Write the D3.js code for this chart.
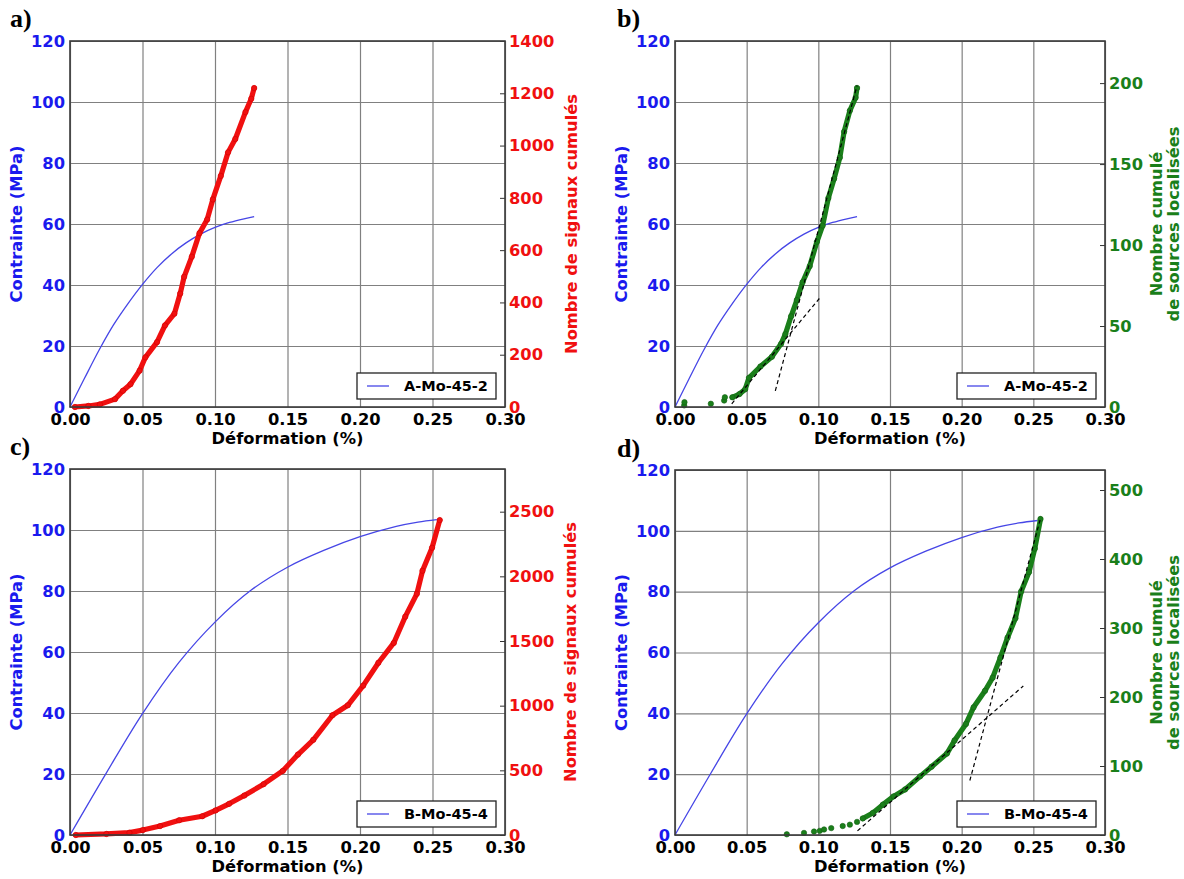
<!DOCTYPE html>
<html><head><meta charset="utf-8">
<script src="https://cdn.jsdelivr.net/npm/d3@7"></script>
<style>
body{margin:0;background:#fff}
svg text{font-family:"DejaVu Sans",sans-serif;font-weight:bold}
</style>
</head><body>
<svg id="chart" width="1184" height="879"></svg>
<script>
// ---------------- DATA ----------------
const xTicks = [0, 0.05, 0.10, 0.15, 0.20, 0.25, 0.30];
const stressTicks = [0, 20, 40, 60, 80, 100, 120];
const signalTicksA = [0, 200, 400, 600, 800, 1000, 1200, 1400];
const sourceTicksB = [0, 50, 100, 150, 200];
const signalTicksC = [0, 500, 1000, 1500, 2000, 2500];
const sourceTicksD = [0, 100, 200, 300, 400, 500];

// Stress (MPa) vs strain (%) – specimen A-Mo-45-2
const stressA = [[0,0],[0.01,9.4],[0.02,18.6],[0.03,26.9],[0.04,33.9],[0.05,40.2],
  [0.06,45.7],[0.07,50.2],[0.08,53.8],[0.09,56.7],[0.10,58.9],[0.11,60.5],[0.12,61.7],[0.127,62.4]];
// Stress (MPa) vs strain (%) – specimen B-Mo-45-4
const stressB = [[0,0],[0.025,20.3],[0.05,39.8],[0.075,56.5],[0.10,69.8],[0.125,80.3],
  [0.15,87.8],[0.175,93.3],[0.20,97.8],[0.225,101.2],[0.24,102.6],[0.253,103.4]];

// Cumulative AE signals – panel a
const signalsA = [[0.0034,0],[0.0127,4],[0.0206,10],[0.031,30],[0.0365,62],[0.0417,87],
  [0.048,139],[0.052,190],[0.060,248],[0.0655,312],[0.072,357],[0.076,434],[0.0787,498],
  [0.084,575],[0.0893,665],[0.0946,717],[0.0985,794],[0.104,884],[0.109,974],[0.114,1025],
  [0.121,1128],[0.125,1179],[0.127,1220]];
// Cumulative localised sources – panel b
const sourcesBSparse = [[0.0064,1],[0.0066,3],[0.025,2],[0.0343,4],[0.0348,6]];
const sourcesB = [[0.040,6],[0.045,8],[0.049,11],[0.0516,18],[0.0596,25],[0.0676,31],
  [0.074,39],[0.077,45],[0.081,56],[0.085,66],[0.089,77],[0.094,87],[0.099,102],
  [0.103,112],[0.107,129],[0.111,141],[0.115,154],[0.118,170],[0.122,183],[0.126,191],[0.127,197]];
const fitB1 = [[0.0396,2],[0.1007,67]];
const fitB2 = [[0.070,10],[0.127,198.5]];
// Cumulative AE signals – panel c
const signalsC = [[0.004,0],[0.0251,8],[0.041,18],[0.0502,38],[0.0621,69],[0.0753,114],
  [0.0912,145],[0.1004,190],[0.1097,241],[0.1202,305],[0.1335,393],[0.1467,495],[0.1572,622],
  [0.1678,736],[0.181,926],[0.1916,1003],[0.2022,1155],[0.2127,1332],[0.2233,1485],
  [0.2312,1688],[0.2392,1865],[0.2431,2043],[0.2497,2221],[0.255,2435]];
// Cumulative localised sources – panel d
const sourcesDSparse = [[0.078,1],[0.090,3],[0.097,5],[0.101,6],[0.104,8],[0.109,10],
  [0.117,13],[0.122,15],[0.127,19]];
const sourcesD = [[0.131,24],[0.138,32],[0.145,44],[0.1525,56],[0.1605,66],[0.171,85],
  [0.179,99],[0.1897,118],[0.195,137],[0.203,161],[0.2083,185],[0.2163,209],[0.2216,228],
  [0.227,257],[0.232,286],[0.2375,314],[0.2415,353],[0.247,381],[0.251,415],[0.255,458]];
const fitD1 = [[0.1273,6],[0.243,216]];
const fitD2 = [[0.2057,79],[0.255,459]];

// ---------------- LAYOUT / STYLE ----------------
const BLUE = "#1a1aee", STRESS_LINE = "#4646e6", RED = "#f01010", GREEN = "#1a7f1a";
const panels = [
  {letter:"a)", lx:10, ly:27, left:70, right:505, top:41, bottom:407, stress:stressA, legend:"A-Mo-45-2",
   rMax:1400, rTicks:signalTicksA, rColor:RED, rLabel:["Nombre de signaux cumulés"], rLabelX:571,
   series:signalsA, sparse:[], fits:[]},
  {letter:"b)", lx:617, ly:27, left:675, right:1105, top:41, bottom:407, stress:stressA, legend:"A-Mo-45-2",
   rMax:226, rTicks:sourceTicksB, rColor:GREEN, rLabel:["Nombre cumulé","de sources localisées"], rLabelX:1156,
   series:sourcesB, sparse:sourcesBSparse, fits:[fitB1, fitB2]},
  {letter:"c)", lx:10, ly:455, left:70, right:505, top:469, bottom:835, stress:stressB, legend:"B-Mo-45-4",
   rMax:2830, rTicks:signalTicksC, rColor:RED, rLabel:["Nombre de signaux cumulés"], rLabelX:570,
   series:signalsC, sparse:[], fits:[]},
  {letter:"d)", lx:617, ly:457, left:675, right:1105, top:470, bottom:835, stress:stressB, legend:"B-Mo-45-4",
   rMax:529, rTicks:sourceTicksD, rColor:GREEN, rLabel:["Nombre cumulé","de sources localisées"], rLabelX:1156,
   series:sourcesD, sparse:sourcesDSparse, fits:[fitD1, fitD2]}
];

const svg = d3.select("#chart");

panels.forEach(p => {
  const w = p.right - p.left, h = p.bottom - p.top;
  const x = d3.scaleLinear().domain([0, 0.3]).range([p.left, p.right]);
  const yL = d3.scaleLinear().domain([0, 120]).range([p.bottom, p.top]);
  const yR = d3.scaleLinear().domain([0, p.rMax]).range([p.bottom, p.top]);
  const g = svg.append("g");

  // panel letter
  g.append("text").attr("x", p.lx).attr("y", p.ly).text(p.letter)
    .style("font-family", "'Liberation Serif', serif").style("font-size", "26px").attr("fill", "#000");

  // x axis with vertical grid
  const xa = g.append("g").attr("transform", `translate(0,${p.bottom})`)
    .call(d3.axisBottom(x).tickValues(xTicks).tickFormat(d3.format(".2f")).tickSizeInner(-h).tickSizeOuter(0).tickPadding(6));
  xa.select(".domain").remove();
  xa.selectAll("line").attr("stroke", "#808080").attr("stroke-width", 1.2);
  xa.selectAll("text").attr("fill", "#000").style("font-size", "16.3px");

  // left axis with horizontal grid
  const ya = g.append("g").attr("transform", `translate(${p.left},0)`)
    .call(d3.axisLeft(yL).tickValues(stressTicks).tickFormat(d3.format("d")).tickSizeInner(-w).tickSizeOuter(0).tickPadding(5));
  ya.select(".domain").remove();
  ya.selectAll("line").attr("stroke", "#808080").attr("stroke-width", 1.2);
  ya.selectAll("text").attr("fill", BLUE).style("font-size", "16.3px");

  // right axis
  const ra = g.append("g").attr("transform", `translate(${p.right},0)`)
    .call(d3.axisRight(yR).tickValues(p.rTicks).tickFormat(d3.format("d")).tickSizeInner(-5).tickSizeOuter(0).tickPadding(4));
  ra.select(".domain").remove();
  ra.selectAll("line").attr("stroke", "#333").attr("stroke-width", 1);
  ra.selectAll("text").attr("fill", p.rColor).style("font-size", "16.3px");

  // axis titles
  g.append("text").attr("x", (p.left + p.right) / 2).attr("y", p.bottom + 37)
    .attr("text-anchor", "middle").style("font-size", "16.3px").attr("fill", "#000").text("Déformation (%)");
  g.append("text").attr("transform", `translate(${p.left - 54},${(p.top + p.bottom) / 2}) rotate(-90)`)
    .attr("text-anchor", "middle").attr("dy", "0.36em").style("font-size", "16.3px").attr("fill", BLUE)
    .text("Contrainte (MPa)");
  p.rLabel.forEach((t, i) => {
    g.append("text").attr("transform", `translate(${p.rLabelX + i * 17},${(p.top + p.bottom) / 2}) rotate(-90)`)
      .attr("text-anchor", "middle").attr("dy", "0.36em").style("font-size", "16.3px").attr("fill", p.rColor).text(t);
  });

  // stress curve
  const lineL = d3.line().x(d => x(d[0])).y(d => yL(d[1])).curve(d3.curveCatmullRom.alpha(0.5));
  g.append("path").datum(p.stress).attr("d", lineL).attr("fill", "none")
    .attr("stroke", STRESS_LINE).attr("stroke-width", 1.3);

  // cumulative series (dense markers rendered as thick trace + dots)
  const lineR = d3.line().x(d => x(d[0])).y(d => yR(d[1]));
  const dark = p.rColor === GREEN ? "#145f14" : "#d00000";
  g.append("path").datum(p.series).attr("d", lineR).attr("fill", "none")
    .attr("stroke", p.rColor).attr("stroke-width", 5.2).attr("stroke-linejoin", "round").attr("stroke-linecap", "round");
  g.selectAll(null).data(p.series.concat(p.sparse)).join("circle")
    .attr("cx", d => x(d[0])).attr("cy", d => yR(d[1])).attr("r", 2.7)
    .attr("fill", p.rColor).attr("stroke", dark).attr("stroke-width", 0.6);

  // fitted dashed lines
  p.fits.forEach(f => {
    g.append("path").datum(f).attr("d", lineR).attr("fill", "none")
      .attr("stroke", "#000").attr("stroke-width", 1.2).attr("stroke-dasharray", "4,3");
  });

  // legend
  const lw = 139, lh = 26, lx = p.right - 9 - lw, ly = p.bottom - 8 - lh;
  g.append("rect").attr("x", lx).attr("y", ly).attr("width", lw).attr("height", lh)
    .attr("fill", "#fff").attr("stroke", "#222").attr("stroke-width", 1.3);
  g.append("line").attr("x1", lx + 10).attr("x2", lx + 32).attr("y1", ly + lh / 2).attr("y2", ly + lh / 2)
    .attr("stroke", STRESS_LINE).attr("stroke-width", 1.3);
  g.append("text").attr("x", lx + 47).attr("y", ly + lh / 2).attr("dy", "0.36em")
    .style("font-size", "14.5px").attr("fill", "#000").text(p.legend);

  // frame
  g.append("rect").attr("x", p.left).attr("y", p.top).attr("width", w).attr("height", h)
    .attr("fill", "none").attr("stroke", "#3a3a3a").attr("stroke-width", 1.6);
});
</script>
</body></html>
